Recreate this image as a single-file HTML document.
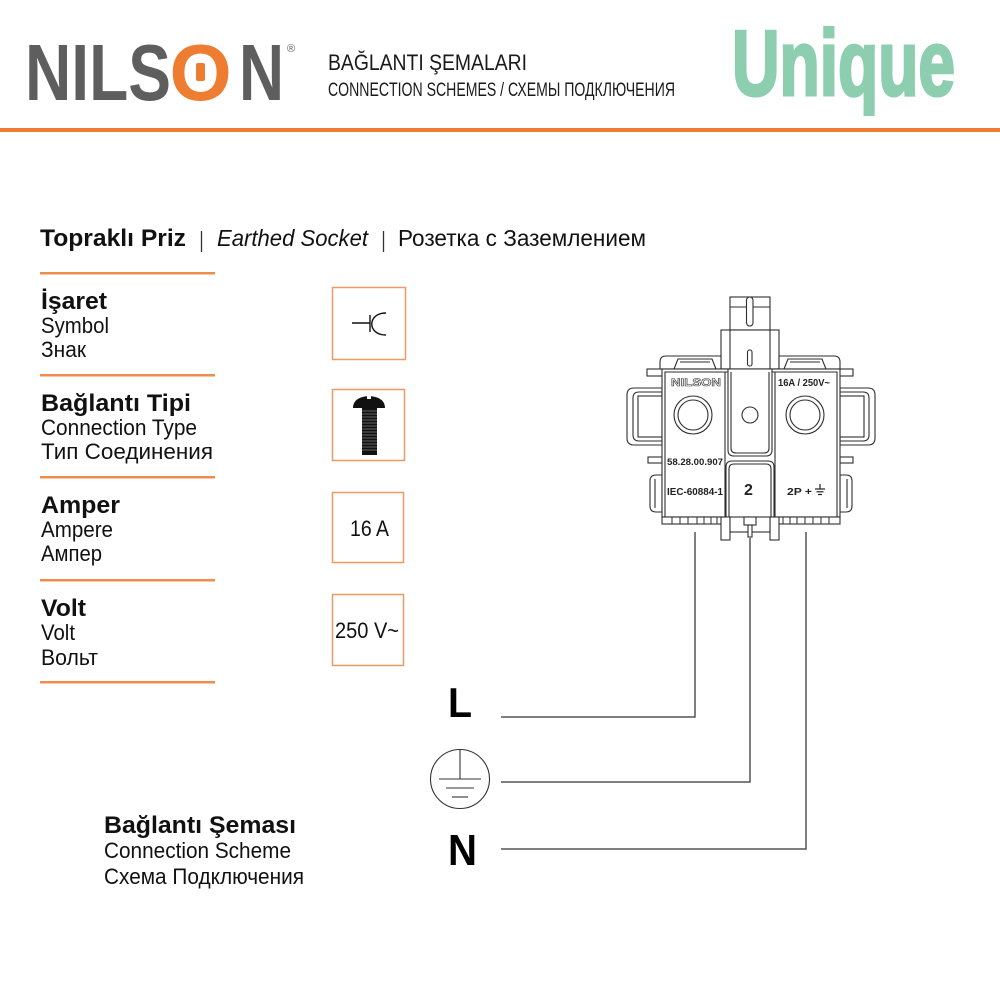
<!DOCTYPE html>
<html><head><meta charset="utf-8"><style>
html,body{margin:0;padding:0;background:#fff;}
svg{display:block;}
text{font-family:"Liberation Sans",Arial,sans-serif;}
</style></head><body>
<svg width="1000" height="1000" viewBox="0 0 1000 1000" xmlns="http://www.w3.org/2000/svg">
<rect width="1000" height="1000" fill="#fff"/>

<!-- HEADER -->
<text x="25" y="100" font-size="80" font-weight="bold" fill="#5e5e5e" textLength="146" lengthAdjust="spacingAndGlyphs">NILS</text>
<text x="169.5" y="100" font-size="80" font-weight="bold" fill="#ee7d31">O</text>
<rect x="196" y="63" width="9" height="18" rx="2" fill="#ee7d31"/>
<text x="239" y="100" font-size="80" font-weight="bold" fill="#5e5e5e" textLength="45" lengthAdjust="spacingAndGlyphs">N</text>
<text x="287" y="52" font-size="11" fill="#5e5e5e">®</text>

<text x="328" y="70" font-size="22" fill="#1a1a1a" textLength="199" lengthAdjust="spacingAndGlyphs">BAĞLANTI ŞEMALARI</text>
<text x="328" y="96" font-size="19" fill="#1a1a1a" textLength="347" lengthAdjust="spacingAndGlyphs">CONNECTION SCHEMES / СХЕМЫ ПОДКЛЮЧЕНИЯ</text>

<text x="732" y="95" font-size="93" font-weight="bold" fill="#8dcdb0" stroke="#8dcdb0" stroke-width="3" textLength="223" lengthAdjust="spacingAndGlyphs">Unique</text>

<rect x="0" y="128" width="1000" height="4" fill="#ee7d31"/>

<!-- TITLE -->
<text x="40" y="246" font-size="24" font-weight="bold" fill="#111" textLength="146" lengthAdjust="spacingAndGlyphs">Topraklı Priz</text>
<line x1="201.5" y1="231" x2="201.5" y2="252" stroke="#333" stroke-width="1.3"/>
<text x="217" y="246" font-size="23" font-style="italic" fill="#111" textLength="151" lengthAdjust="spacingAndGlyphs">Earthed Socket</text>
<line x1="383.5" y1="231" x2="383.5" y2="252" stroke="#333" stroke-width="1.3"/>
<text x="398" y="246" font-size="23" fill="#111" textLength="248" lengthAdjust="spacingAndGlyphs">Розетка с Заземлением</text>

<!-- LEFT LIST orange lines -->
<g fill="#ee8d4c">
<rect x="40" y="272" width="175" height="2.5"/>
<rect x="40" y="374" width="175" height="2.5"/>
<rect x="40" y="476" width="175" height="2.5"/>
<rect x="40" y="579" width="175" height="2.5"/>
<rect x="40" y="681" width="175" height="2.5"/>
</g>

<g fill="#111">
<text x="41" y="309" font-size="24" font-weight="bold" textLength="66" lengthAdjust="spacingAndGlyphs">İşaret</text>
<text x="41" y="333" font-size="22" textLength="68" lengthAdjust="spacingAndGlyphs">Symbol</text>
<text x="41" y="357" font-size="22" textLength="45" lengthAdjust="spacingAndGlyphs">Знак</text>

<text x="41" y="411" font-size="24" font-weight="bold" textLength="150" lengthAdjust="spacingAndGlyphs">Bağlantı Tipi</text>
<text x="41" y="435" font-size="22" textLength="156" lengthAdjust="spacingAndGlyphs">Connection Type</text>
<text x="41" y="459" font-size="22" textLength="172" lengthAdjust="spacingAndGlyphs">Тип Соединения</text>

<text x="41" y="513" font-size="24" font-weight="bold" textLength="79" lengthAdjust="spacingAndGlyphs">Amper</text>
<text x="41" y="537" font-size="22" textLength="72" lengthAdjust="spacingAndGlyphs">Ampere</text>
<text x="41" y="561" font-size="22" textLength="61" lengthAdjust="spacingAndGlyphs">Ампер</text>

<text x="41" y="616" font-size="24" font-weight="bold" textLength="45" lengthAdjust="spacingAndGlyphs">Volt</text>
<text x="41" y="640" font-size="22" textLength="34" lengthAdjust="spacingAndGlyphs">Volt</text>
<text x="41" y="665" font-size="22" textLength="57" lengthAdjust="spacingAndGlyphs">Вольт</text>
</g>

<!-- BOXES -->
<g fill="none" stroke="#ee9a62" stroke-width="1.5">
<rect x="332.5" y="287.5" width="73" height="72"/>
<rect x="332.5" y="389.5" width="72" height="71"/>
<rect x="332.5" y="492.5" width="71" height="70"/>
<rect x="332.5" y="594.5" width="71" height="71"/>
</g>
<!-- symbol icon -->
<g fill="none" stroke="#111" stroke-width="1.4">
<line x1="352" y1="323" x2="370" y2="323"/>
<line x1="370" y1="315" x2="370" y2="332"/>
<path d="M386 313 C367 313 367 335 386 335"/>
</g>
<!-- screw icon -->
<path d="M353 408 Q353 397 369 396 Q385 397 385 408 Z" fill="#111"/>
<rect x="367" y="395" width="4" height="4" fill="#fff"/>
<rect x="362" y="407" width="15" height="48" fill="#111"/>
<g stroke="#888" stroke-width="0.7">
<line x1="362" y1="411" x2="377" y2="411"/><line x1="362" y1="414" x2="377" y2="414"/>
<line x1="362" y1="417" x2="377" y2="417"/><line x1="362" y1="420" x2="377" y2="420"/>
<line x1="362" y1="423" x2="377" y2="423"/><line x1="362" y1="426" x2="377" y2="426"/>
<line x1="362" y1="429" x2="377" y2="429"/><line x1="362" y1="432" x2="377" y2="432"/>
<line x1="362" y1="435" x2="377" y2="435"/><line x1="362" y1="438" x2="377" y2="438"/>
<line x1="362" y1="441" x2="377" y2="441"/><line x1="362" y1="444" x2="377" y2="444"/>
<line x1="362" y1="447" x2="377" y2="447"/><line x1="362" y1="450" x2="377" y2="450"/>
</g>
<text x="350" y="536" font-size="22" fill="#111" textLength="39" lengthAdjust="spacingAndGlyphs">16 A</text>
<text x="335" y="638" font-size="22" fill="#111" textLength="64" lengthAdjust="spacingAndGlyphs">250 V~</text>

<!-- CONNECTION SCHEME LABEL -->
<g fill="#111">
<text x="104" y="833" font-size="24" font-weight="bold" textLength="192" lengthAdjust="spacingAndGlyphs">Bağlantı Şeması</text>
<text x="104" y="858" font-size="22" textLength="187" lengthAdjust="spacingAndGlyphs">Connection Scheme</text>
<text x="104" y="884" font-size="22" textLength="200" lengthAdjust="spacingAndGlyphs">Схема Подключения</text>
</g>

<!-- WIRES -->
<g fill="none" stroke="#555" stroke-width="1.5">
<polyline points="695,532 695,717 501,717"/>
<polyline points="750,538 750,782 501,782"/>
<polyline points="806,532 806,849 501,849"/>
</g>
<text x="448" y="717" font-size="42" font-weight="bold" fill="#000" textLength="24" lengthAdjust="spacingAndGlyphs">L</text>
<text x="448" y="865" font-size="44" font-weight="bold" fill="#000" textLength="29" lengthAdjust="spacingAndGlyphs">N</text>
<g fill="none" stroke="#333" stroke-width="1.1">
<circle cx="460" cy="779" r="29.5"/>
<line x1="460" y1="750" x2="460" y2="779"/>
<line x1="439" y1="779" x2="481" y2="779"/>
<line x1="446" y1="788" x2="474" y2="788"/>
<line x1="452" y1="797" x2="468" y2="797"/>
</g>

<!-- DEVICE -->
<g fill="#fff" stroke="#2e2e2e" stroke-width="1.1">
<rect x="730" y="297" width="40" height="33"/>
<line x1="730" y1="307" x2="770" y2="307"/>
<rect x="746.5" y="297" width="6.5" height="29" rx="3.2"/>
<rect x="721" y="330" width="58" height="39"/>
<line x1="730" y1="330" x2="730" y2="369"/>
<line x1="770" y1="330" x2="770" y2="369"/>
<rect x="747.5" y="350" width="4.5" height="16" rx="2"/>
<path d="M660 369 V362 Q660 356 666 356 H721 V369 Z"/>
<path d="M674 369 L678 359 H712 L716 369" fill="none"/>
<line x1="680" y1="362" x2="710" y2="362"/>
<path d="M840 369 V362 Q840 356 834 356 H779 V369 Z"/>
<path d="M784 369 L788 359 H822 L826 369" fill="none"/>
<line x1="790" y1="362" x2="820" y2="362"/>
<rect x="647" y="369" width="206" height="7"/>
<path d="M662 388 H634 Q627 388 627 395 V438 Q627 445 634 445 H662 Z"/>
<path d="M662 392 H639 Q633 392 633 398 V435 Q633 441 639 441 H662" fill="none"/>
<rect x="638" y="396" width="24" height="41"/>
<path d="M840 388 H868 Q875 388 875 395 V438 Q875 445 868 445 H840 Z"/>
<path d="M840 392 H863 Q869 392 869 398 V435 Q869 441 863 441 H840" fill="none"/>
<rect x="840" y="396" width="24" height="41"/>
<rect x="648" y="457" width="14" height="6"/>
<rect x="840" y="457" width="13" height="6"/>
<path d="M662 475 H656 Q650 475 650 481 V506 Q650 512 656 512 H662 Z"/>
<line x1="655" y1="479" x2="655" y2="508"/>
<path d="M840 475 H846 Q852 475 852 481 V506 Q852 512 846 512 H840 Z"/>
<line x1="847" y1="479" x2="847" y2="508"/>
<rect x="662" y="369" width="178" height="148"/>
<path d="M665 517 V372 H837 V517" fill="none"/>
<line x1="725" y1="372" x2="725" y2="517"/>
<line x1="775" y1="372" x2="775" y2="517"/>
<path d="M728 369 V450 Q728 456 734 456 H766 Q772 456 772 450 V369 Z"/>
<path d="M731 372 V448 Q731 453 736 453 H764 Q769 453 769 448 V372" fill="none"/>
<circle cx="750" cy="415" r="8"/>
<path d="M726 517 V467 Q726 461 732 461 H768 Q774 461 774 467 V517 Z"/>
<path d="M729 517 V469 Q729 464 734 464 H766 Q771 464 771 469 V517" fill="none"/>
<circle cx="693" cy="415" r="19"/>
<circle cx="693" cy="415" r="15"/>
<circle cx="805" cy="415" r="19"/>
<circle cx="805" cy="415" r="15"/>
<rect x="662" y="517" width="60" height="7"/>
<rect x="778" y="517" width="62" height="7"/>
<rect x="721" y="517" width="9" height="23"/>
<rect x="770" y="517" width="9" height="23"/>
<rect x="730" y="517" width="40" height="15"/>
<rect x="744" y="517" width="12" height="8"/>
<rect x="748" y="525" width="4" height="12"/>
</g>
<g stroke="#2e2e2e" stroke-width="1">
<line x1="672" y1="517" x2="672" y2="524"/><line x1="680" y1="517" x2="680" y2="524"/>
<line x1="688" y1="517" x2="688" y2="524"/><line x1="697" y1="517" x2="697" y2="524"/>
<line x1="704" y1="517" x2="704" y2="524"/><line x1="711" y1="517" x2="711" y2="524"/>
<line x1="717" y1="517" x2="717" y2="524"/>
<line x1="783" y1="517" x2="783" y2="524"/><line x1="790" y1="517" x2="790" y2="524"/>
<line x1="797" y1="517" x2="797" y2="524"/><line x1="805" y1="517" x2="805" y2="524"/>
<line x1="813" y1="517" x2="813" y2="524"/><line x1="821" y1="517" x2="821" y2="524"/>
<line x1="829" y1="517" x2="829" y2="524"/>
</g>
<text x="671" y="386" font-size="11" font-weight="bold" fill="#fff" stroke="#333" stroke-width="0.6" textLength="50" lengthAdjust="spacingAndGlyphs">NILSON</text>
<text x="778" y="386" font-size="10" font-weight="bold" fill="#222" textLength="52" lengthAdjust="spacingAndGlyphs">16A / 250V~</text>
<text x="667" y="465" font-size="9" font-weight="bold" fill="#222" textLength="56" lengthAdjust="spacingAndGlyphs">58.28.00.907</text>
<text x="667" y="495" font-size="10" font-weight="bold" fill="#222" textLength="56" lengthAdjust="spacingAndGlyphs">IEC-60884-1</text>
<text x="744" y="495" font-size="16" font-weight="bold" fill="#222">2</text>
<text x="787" y="495" font-size="10" font-weight="bold" fill="#222" textLength="25" lengthAdjust="spacingAndGlyphs">2P +</text>
<g stroke="#222" stroke-width="1.2">
<line x1="820" y1="484" x2="820" y2="489"/>
<line x1="815" y1="489" x2="825" y2="489"/>
<line x1="816.5" y1="491.8" x2="823.5" y2="491.8"/>
<line x1="818" y1="494.5" x2="822" y2="494.5"/>
</g>
</svg>
</body></html>
